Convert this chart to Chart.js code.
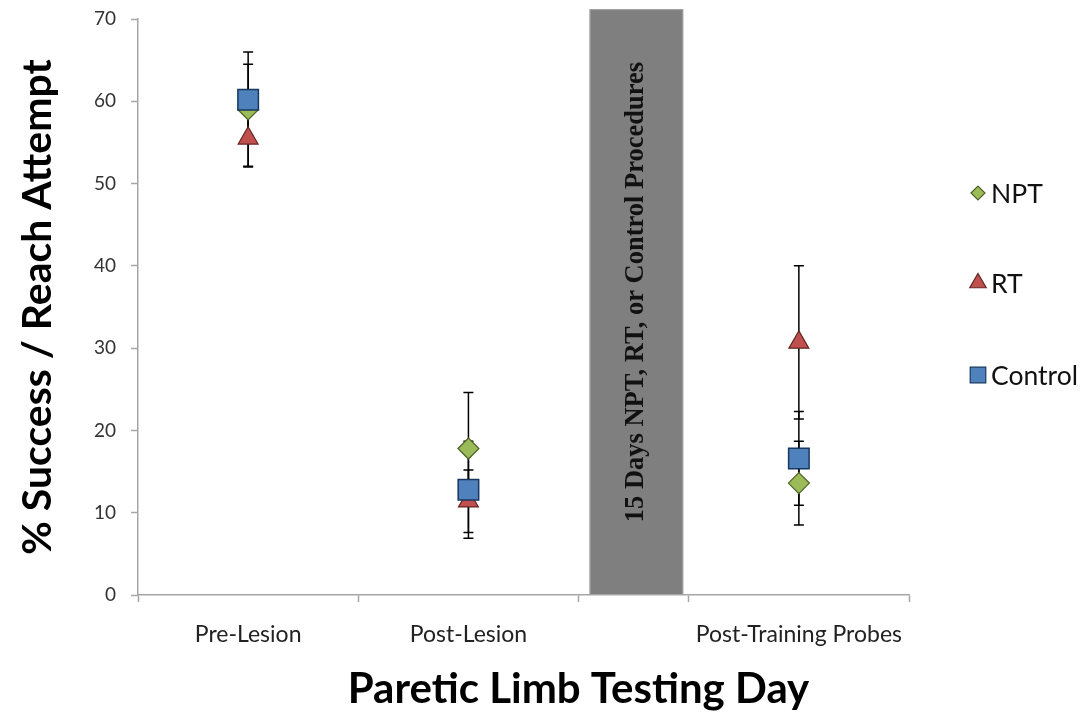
<!DOCTYPE html>
<html>
<head>
<meta charset="utf-8">
<script src="https://cdn.jsdelivr.net/npm/chart.js@4.4.1/dist/chart.umd.min.js"></script>
<style>
  body { margin: 0; background: #fff; }
  #wrap { width: 1082px; height: 715px; }
</style>
</head>
<body>
<div id="wrap"><canvas id="reachChart" width="1082" height="715"></canvas></div>
<script>
// Testing days sit at fixed x positions on a 0..7 axis
const dayNames = ['Pre-Lesion', 'Post-Lesion', 'Post-Training Probes'];
const dayPos = [1, 3, 6];
const tickMarks = [0, 2, 4, 5, 7];

const seriesNames = ['NPT', 'RT', 'Control'];
const nptMean = [59.0, 17.8, 13.6];
const nptErr = [7.0, 6.8, 5.1];
const rtMean = [55.5, 11.4, 30.7];
const rtErr = [3.4, 3.8, 9.3];
const ctrlMean = [60.2, 12.8, 16.6];
const ctrlErr = [4.3, 5.9, 5.7];

// training period between probes
const bandFrom = 4.1;
const bandTo = 4.95;
const bandTop = 71.2;
const bandText = '15 Days NPT, RT, or Control Procedures';

const xTitle = 'Paretic Limb Testing Day';
const sansFont = 'Lato, "Open Sans", sans-serif';

function points(means) {
    return means.map((m, i) => ({ x: dayPos[i], y: m }));
}

const errors = [nptErr, rtErr, ctrlErr];

// draws the shaded training band with its rotated caption
const bandPlugin = {
    id: 'trainingBand',
    beforeDatasetsDraw(chart) {
        const { ctx, scales } = chart;
        const x0 = scales.x.getPixelForValue(bandFrom);
        const x1 = scales.x.getPixelForValue(bandTo);
        const y0 = scales.y.getPixelForValue(bandTop);
        const y1 = scales.y.getPixelForValue(0);
        ctx.save();
        ctx.fillStyle = '#7f7f7f';
        ctx.fillRect(x0, y0, x1 - x0, y1 - y0);
        ctx.strokeStyle = '#a5a5a5';
        ctx.lineWidth = 1;
        ctx.strokeRect(x0 + 0.5, y0 + 0.5, x1 - x0 - 1, y1 - y0 - 1);
        ctx.translate((x0 + x1) / 2, (y0 + y1) / 2 - 10);
        ctx.rotate(-Math.PI / 2);
        ctx.fillStyle = '#111';
        ctx.font = 'bold 26.5px "Liberation Serif", "Times New Roman", serif';
        ctx.textAlign = 'center';
        ctx.textBaseline = 'middle';
        ctx.fillText(bandText, 0, 0);
        ctx.restore();
    }
};

// vertical error bars with caps, behind the markers
const errorBarPlugin = {
    id: 'errorBars',
    beforeDatasetsDraw(chart) {
        const { ctx, scales } = chart;
        ctx.save();
        ctx.strokeStyle = '#000';
        ctx.lineWidth = 1.5;
        chart.data.datasets.forEach((ds, di) => {
            ds.data.forEach((p, i) => {
                const e = errors[di][i];
                const x = scales.x.getPixelForValue(p.x);
                const yHi = scales.y.getPixelForValue(p.y + e);
                const yLo = scales.y.getPixelForValue(p.y - e);
                ctx.beginPath();
                ctx.moveTo(x, yHi);
                ctx.lineTo(x, yLo);
                ctx.moveTo(x - 5, yHi);
                ctx.lineTo(x + 5, yHi);
                ctx.moveTo(x - 5, yLo);
                ctx.lineTo(x + 5, yLo);
                ctx.stroke();
            });
        });
        ctx.restore();
    }
};

// legend stacked on the right, well spaced; x-axis title sits right of centre
const sideLegend = {
    id: 'sideLegend',
    afterDraw(chart) {
        const { ctx, chartArea } = chart;
        const mx = chartArea.right + 69;
        const ys = [193, 283, 375];
        ctx.save();
        chart.data.datasets.forEach((ds, i) => {
            ctx.fillStyle = ds.backgroundColor;
            ctx.strokeStyle = ds.borderColor;
            ctx.lineWidth = 1.2;
            Chart.helpers.drawPoint(ctx, {
                pointStyle: ds.pointStyle,
                radius: ds.pointStyle === 'rect' ? 11 : (ds.pointStyle === 'rectRot' ? 7 : 9.5),
                borderWidth: 1.2
            }, mx, ys[i]);
            ctx.fillStyle = '#111';
            ctx.font = '26.5px ' + sansFont;
            ctx.textAlign = 'left';
            ctx.textBaseline = 'middle';
            ctx.fillText(ds.label, mx + 13, ys[i] + 1);
        });

        ctx.fillStyle = '#000';
        ctx.font = 'bold 42px ' + sansFont;
        ctx.textAlign = 'center';
        ctx.textBaseline = 'middle';
        ctx.fillText(xTitle, (chartArea.left + chartArea.right) / 2 + 55, chartArea.bottom + 94);
        ctx.restore();
    }
};

new Chart(document.getElementById('reachChart'), {
    type: 'scatter',
    data: {
        datasets: [
            {
                label: seriesNames[0],
                data: points(nptMean),
                pointStyle: 'rectRot',
                pointRadius: 10.5,
                backgroundColor: '#9bbb59',
                borderColor: '#4f6228',
                borderWidth: 1.2,
                order: 3
            },
            {
                label: seriesNames[1],
                data: points(rtMean),
                pointStyle: 'triangle',
                pointRadius: 11.5,
                backgroundColor: '#c0504d',
                borderColor: '#632523',
                borderWidth: 1.2,
                order: 2
            },
            {
                label: seriesNames[2],
                data: points(ctrlMean),
                pointStyle: 'rect',
                pointRadius: 14.5,
                backgroundColor: '#4f81bd',
                borderColor: '#17375e',
                borderWidth: 1.5,
                order: 1
            }
        ]
    },
    options: {
        responsive: false,
        animation: false,
        layout: { padding: { left: 0, right: 173, top: 19, bottom: 0 } },
        plugins: {
            legend: { display: false },
            tooltip: { enabled: false }
        },
        scales: {
            x: {
                type: 'linear',
                min: 0,
                max: 7,
                afterBuildTicks(scale) {
                    scale.ticks = [0, 1, 2, 3, 4, 5, 6, 7].map(v => ({ value: v }));
                },
                afterFit(scale) {
                    scale.height = 120;
                    scale.paddingLeft = 0;
                    scale.paddingRight = 0;
                },
                border: { color: '#a6a6a6', width: 1.5 },
                grid: {
                    drawOnChartArea: false,
                    tickLength: 7,
                    tickWidth: 1.5,
                    tickColor: ctx => tickMarks.includes(ctx.tick.value) ? '#a6a6a6' : 'rgba(0,0,0,0)'
                },
                ticks: {
                    autoSkip: false,
                    maxRotation: 0,
                    padding: 19,
                    color: '#222',
                    font: { family: sansFont, size: 23 },
                    callback: v => {
                        const k = dayPos.indexOf(v);
                        return k >= 0 ? dayNames[k] : '';
                    }
                }
            },
            y: {
                min: 0,
                max: 70,
                afterFit(scale) {
                    scale.width = 138;
                    scale.paddingTop = 0;
                    scale.paddingBottom = 0;
                },
                border: { color: '#a6a6a6', width: 1.5 },
                grid: {
                    drawOnChartArea: false,
                    tickLength: 7,
                    tickWidth: 1.5,
                    tickColor: '#a6a6a6'
                },
                ticks: {
                    stepSize: 10,
                    padding: 15,
                    color: '#333',
                    font: { family: sansFont, size: 19 }
                },
                title: {
                    display: true,
                    text: '% Success / Reach Attempt',
                    color: '#000',
                    font: { family: sansFont, size: 41, weight: 'bold' },
                    padding: { top: 13, bottom: 0 }
                }
            }
        }
    },
    plugins: [bandPlugin, errorBarPlugin, sideLegend]
});
</script>
</body>
</html>
